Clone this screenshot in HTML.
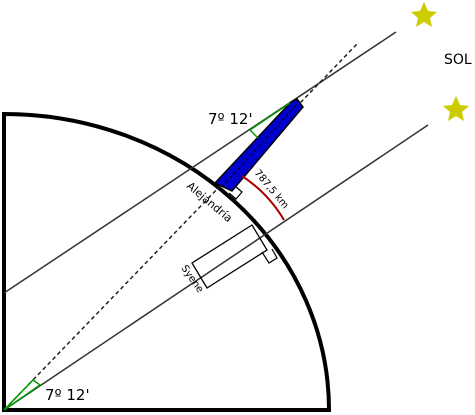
<!DOCTYPE html>
<html><head><meta charset="utf-8"><style>
html,body{margin:0;padding:0;background:#fff;}
svg{display:block;font-family:"DejaVu Sans","Liberation Sans",sans-serif;}
</style></head><body>
<svg width="475" height="415" viewBox="0 0 475 415">
  <path d="M4,410 L4,114 A325,296 0 0 1 329,410 Z" fill="#fff" stroke="#000" stroke-width="4"/>
  <line x1="4" y1="293" x2="396" y2="32" stroke="#333" stroke-width="1.5"/>
  <line x1="4" y1="410" x2="428" y2="125" stroke="#333" stroke-width="1.5"/>
  <line x1="4" y1="410" x2="357" y2="44" stroke="#222" stroke-width="1.5" stroke-dasharray="4,3"/>
  <polygon points="215,183 290,103 297,99 303,107 232,191" fill="#0000cc" stroke="#000" stroke-width="1.5"/>
  <line x1="222" y1="187" x2="297" y2="104" stroke="#000" stroke-width="1" stroke-dasharray="3,3"/>
  <polyline points="290,103 250,130 258,138" fill="none" stroke="#009900" stroke-width="1.5"/>
  <polyline points="4,410 33,380 40,385 4,410" fill="none" stroke="#009900" stroke-width="1.5"/>
  <polyline points="229,193 236,199 242,192 235,186" fill="none" stroke="#000" stroke-width="1.2"/>
  <path d="M242,176 Q268,193 284,220" fill="none" stroke="#aa0000" stroke-width="2"/>
  <polygon points="252,225 192,263 207,288 267,250" fill="none" stroke="#000" stroke-width="1.3"/>
  <polyline points="262,252 269,263 277,258 272,249" fill="none" stroke="#000" stroke-width="1.2"/>
  <polygon points="424,2 428,11 437,12 430,18 432,27 424,22 416,27 418,18 411,12 420,11" fill="#cccc00"/>
  <polygon points="456,96 460,105 469,106 462,112 464,121 456,116 448,121 450,112 443,106 452,105" fill="#cccc00"/>
  <text x="444" y="64" font-size="14">SOL</text>
  <text x="208" y="124" font-size="15">7º 12'</text>
  <text x="45" y="400" font-size="15">7º 12'</text>
  <text x="0" y="0" font-size="11" transform="translate(186,187) rotate(40)">Alejandría</text>
  <text x="0" y="0" font-size="10" transform="translate(254,173) rotate(50)">787,5 km</text>
  <text x="0" y="0" font-size="10" transform="translate(181,268) rotate(55)">Syene</text>
</svg>
</body></html>
